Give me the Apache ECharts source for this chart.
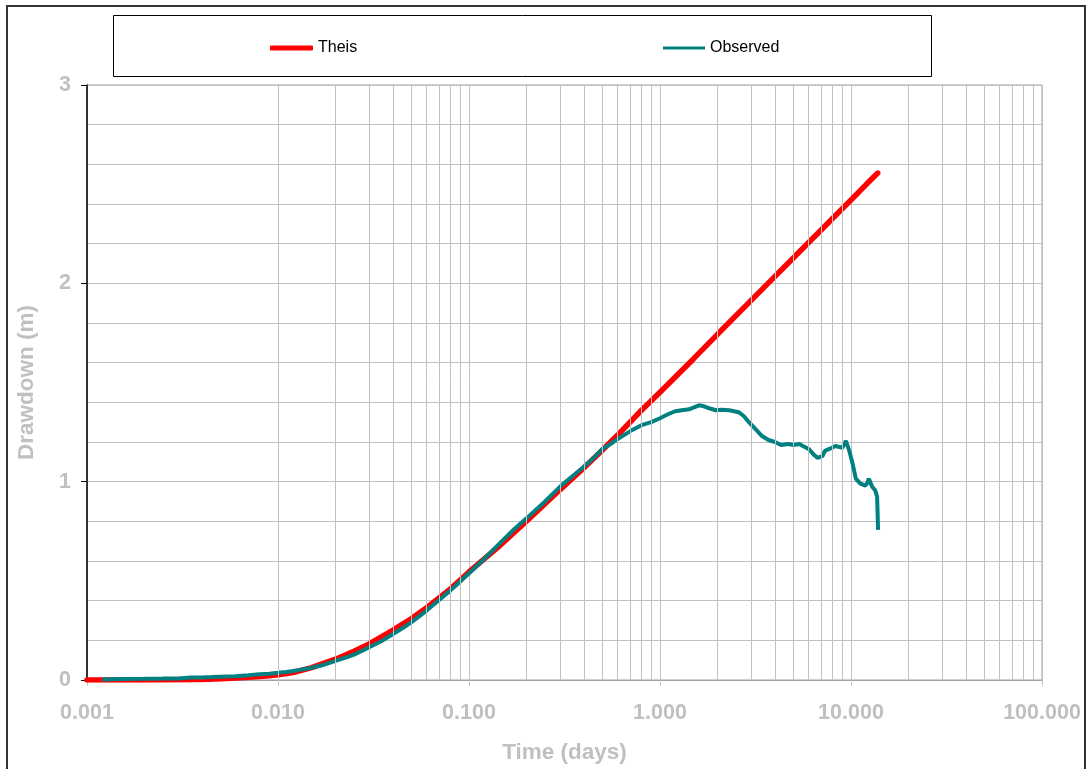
<!DOCTYPE html>
<html>
<head>
<meta charset="utf-8">
<script src="https://cdn.jsdelivr.net/npm/echarts@6/dist/echarts.min.js"></script>
<style>
html,body{margin:0;padding:0;background:#fff;}
#chart{width:1092px;height:769px;}
</style>
</head>
<body>
<div id="chart"></div>
<script>
// Theis type curve (time in days, drawdown in m)
var theisTime = [0.001,0.002,0.003,0.004,0.005,0.006,0.007,0.008,0.009,0.010,0.012,0.015,0.02,0.025,0.03,0.04,0.05,0.06,0.07,0.08,0.1,0.14,0.2,0.3,0.4,0.5,0.6,0.8,1.0,1.5,2,3,4,5,6,7,8,10,12,13.8];
var theisDrawdown = [0.0,0.0,0.001,0.003,0.006,0.010,0.014,0.018,0.022,0.026,0.038,0.062,0.105,0.145,0.182,0.252,0.31,0.365,0.415,0.46,0.545,0.665,0.80,0.96,1.07,1.16,1.235,1.36,1.451,1.62,1.743,1.914,2.035,2.129,2.206,2.27,2.327,2.42,2.498,2.556];

// Observed drawdown
var obsTime = [0.0012,0.0015,0.002,0.0025,0.003,0.0035,0.004,0.0045,0.005,0.006,0.007,0.008,0.009,0.010,0.011,0.012,0.013,0.015,0.017,0.02,0.023,0.025,0.028,0.03,0.035,0.04,0.045,0.05,0.055,0.06,0.07,0.08,0.09,0.1,0.12,0.14,0.17,0.2,0.25,0.3,0.35,0.4,0.45,0.5,0.55,0.6,0.7,0.8,0.9,1.0,1.1,1.2,1.3,1.42,1.6,1.7,1.81,1.96,2.1,2.3,2.59,2.75,2.92,3.2,3.42,3.7,4.0,4.3,4.7,5.0,5.36,5.6,6.0,6.4,6.7,7.1,7.3,7.7,8.3,8.7,9.0,9.4,9.6,9.8,10.2,10.6,11.2,11.9,12.2,12.4,12.9,13.4,13.7,13.85,13.86];
var obsDrawdown = [0.003,0.005,0.006,0.007,0.008,0.012,0.013,0.015,0.017,0.019,0.024,0.029,0.032,0.036,0.040,0.045,0.051,0.062,0.074,0.096,0.115,0.128,0.150,0.165,0.197,0.232,0.262,0.292,0.322,0.350,0.405,0.452,0.497,0.538,0.61,0.675,0.755,0.815,0.90,0.975,1.03,1.075,1.12,1.165,1.19,1.215,1.255,1.285,1.30,1.32,1.34,1.355,1.36,1.365,1.385,1.38,1.37,1.36,1.362,1.36,1.35,1.33,1.30,1.26,1.23,1.21,1.20,1.185,1.19,1.185,1.19,1.18,1.165,1.135,1.12,1.13,1.155,1.165,1.18,1.175,1.17,1.205,1.18,1.155,1.09,1.015,0.99,0.98,0.995,1.015,0.975,0.955,0.925,0.92,0.757];

// Axis ranges and tick labels
var xMin = 0.001, xMax = 100;
var xTickLabels = ['0.001','0.010','0.100','1.000','10.000','100.000'];
var yMin = 0, yMax = 3;

// minor log grid lines (2..9 within each decade)
var minorGrid = [];
[0.001,0.01,0.1,1,10].forEach(function(d){
  for (var k=2;k<=9;k++){ minorGrid.push(+(d*k).toPrecision(3)); }
});

function pairs(a,b){ return a.map(function(v,i){ return [v,b[i]]; }); }

var gray = '#c0c0c0';
var font = '"Liberation Sans", Arial, sans-serif';
var chart = echarts.init(document.getElementById('chart'), null, {renderer:'canvas'});
chart.setOption({
  animation:false,
  backgroundColor:'#ffffff',
  textStyle:{fontFamily:font},
  grid:{left:87,right:50,top:85,bottom:84,show:true,borderColor:'#a0a0a0',borderWidth:1,containLabel:false},
  legend:[
    {data:['Theis'],left:265,top:35,icon:'roundRect',itemWidth:43,itemHeight:5,itemGap:6,
     textStyle:{fontSize:16,color:'#000',fontFamily:font}},
    {data:['Observed'],left:658,top:35,icon:'rect',itemWidth:42,itemHeight:3,itemGap:6,
     textStyle:{fontSize:16,color:'#000',fontFamily:font}}
  ],
  xAxis:{
    type:'log',logBase:10,min:xMin,max:xMax,splitNumber:5,
    name:'Time (days)',nameLocation:'middle',nameGap:61,
    nameTextStyle:{color:gray,fontSize:22.5,fontWeight:'bold'},
    axisLine:{show:true,lineStyle:{color:'#a0a0a0',width:1}},
    axisTick:{show:true,length:6,lineStyle:{color:'#c8c8c8'}},
    axisLabel:{margin:22,color:gray,fontSize:21.5,fontWeight:'bold',
      formatter:function(v){ var i=Math.round(Math.log10(v)+3); return xTickLabels[i]!==undefined?xTickLabels[i]:''; }},
    splitLine:{show:true,lineStyle:{color:gray,width:1}}
  },
  yAxis:{
    type:'value',min:yMin,max:yMax,interval:1,
    name:'Drawdown (m)',nameLocation:'middle',nameGap:49,
    nameTextStyle:{color:gray,fontSize:22.5,fontWeight:'bold'},
    axisLine:{show:true,lineStyle:{color:'#000',width:1.5}},
    axisTick:{show:true,length:6,lineStyle:{color:'#000'}},
    axisLabel:{margin:16,color:gray,fontSize:21.5,fontWeight:'bold'},
    splitLine:{show:true,lineStyle:{color:gray,width:1}},
    minorTick:{show:false,splitNumber:5},
    minorSplitLine:{show:true,lineStyle:{color:gray,width:1}}
  },
  series:[
    {name:'grid',type:'line',data:[],z:1,silent:true,
     markLine:{silent:true,symbol:'none',animation:false,label:{show:false},
       lineStyle:{color:gray,width:1,type:'solid'},
       data:minorGrid.map(function(v){return {xAxis:v};})}},
    {name:'Theis',type:'line',data:pairs(theisTime,theisDrawdown),showSymbol:false,symbol:'none',
     smooth:false,z:3,itemStyle:{color:'#ff0000'},lineStyle:{color:'#ff0000',width:5.5,cap:'round'}},
    {name:'Observed',type:'line',data:pairs(obsTime,obsDrawdown),showSymbol:false,symbol:'none',
     z:4,itemStyle:{color:'#008080'},lineStyle:{color:'#008080',width:4}}
  ],
  graphic:[
    {type:'rect',shape:{x:7,y:6,width:1078,height:800},style:{fill:null,stroke:'#333',lineWidth:2},z:-10,silent:true},
    {type:'rect',shape:{x:113.5,y:15.5,width:818,height:61},style:{fill:null,stroke:'#000',lineWidth:1},z:10,silent:true}
  ]
});
</script>
</body>
</html>
